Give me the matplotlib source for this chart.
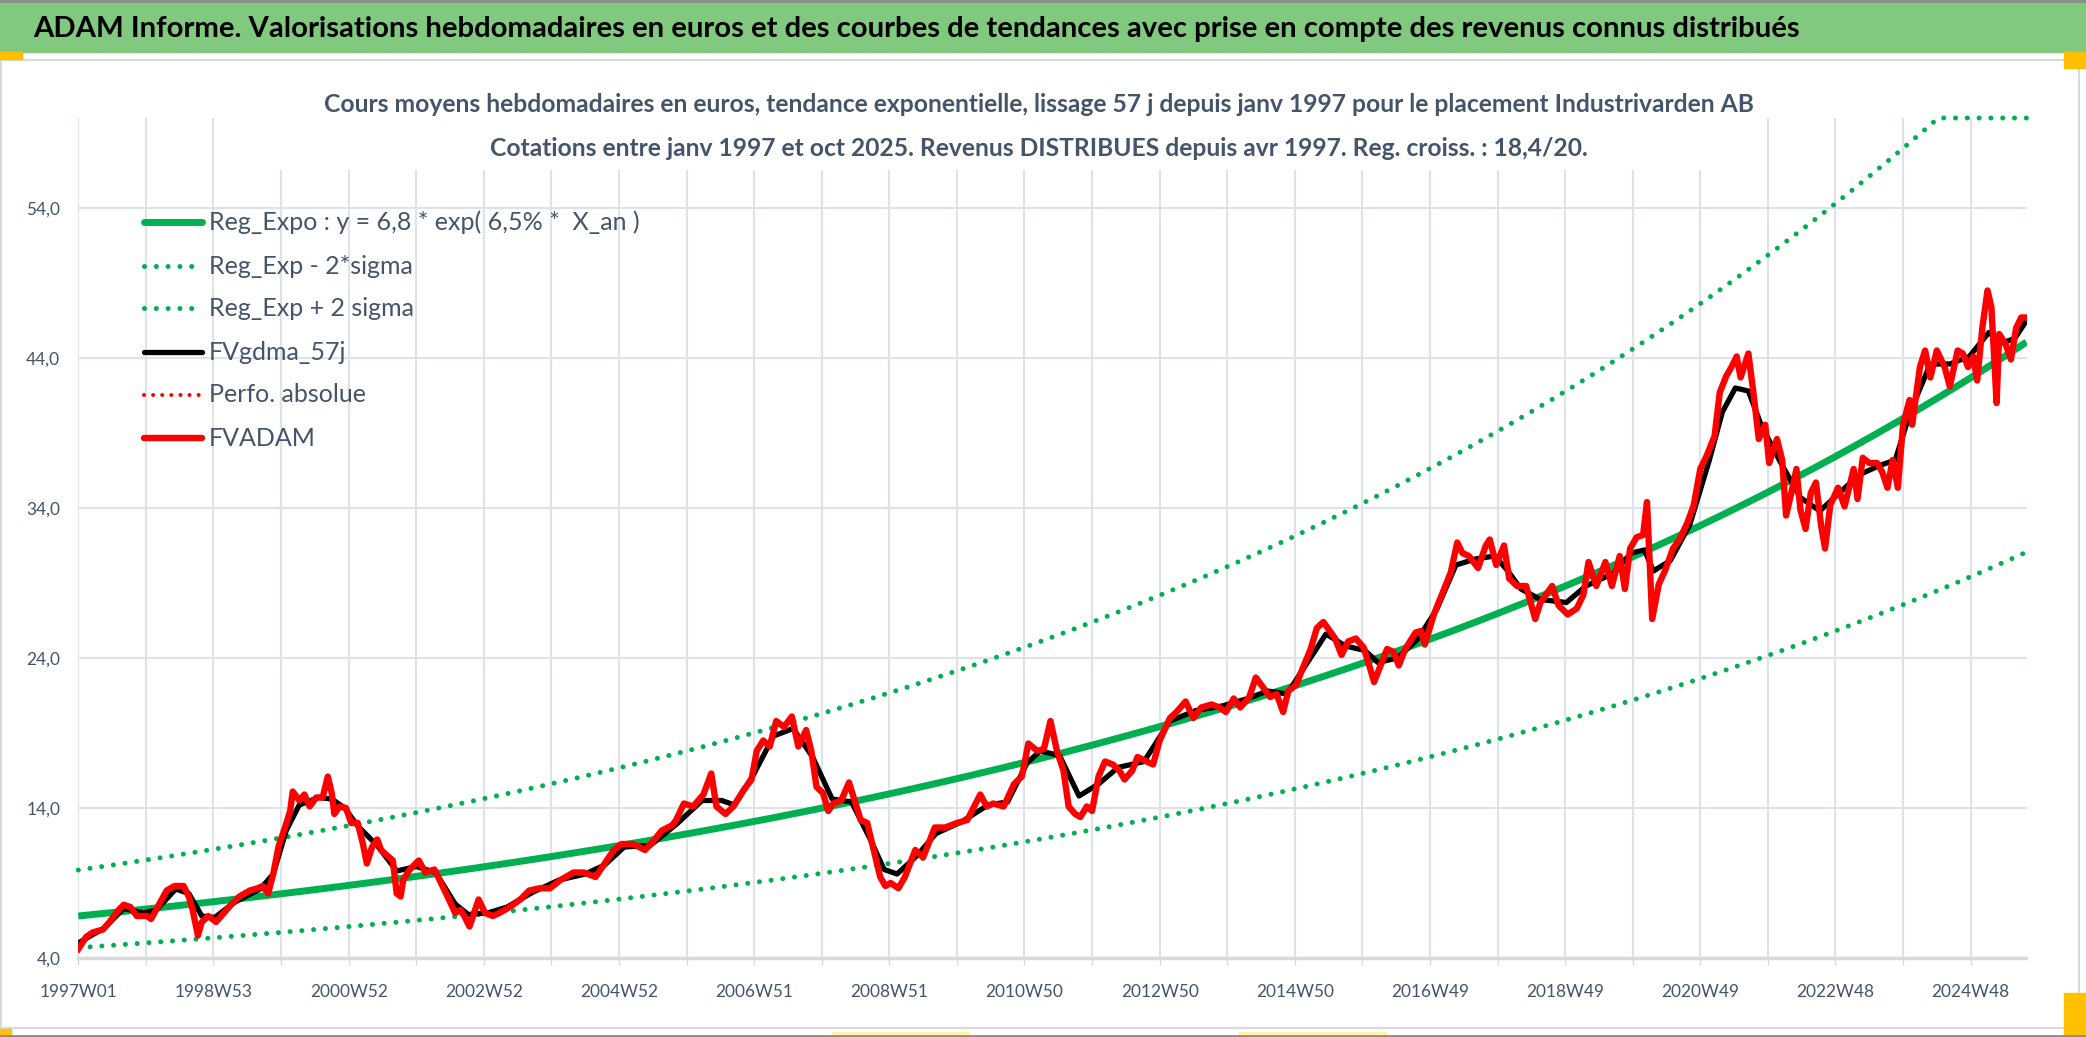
import numpy as np
import matplotlib
matplotlib.use("Agg")
import matplotlib.pyplot as plt
from matplotlib import font_manager
from matplotlib.lines import Line2D
from matplotlib.patches import Rectangle
from matplotlib.ticker import FixedLocator, FuncFormatter

W, H, DPI = 2086, 1037, 100

# ---- data ----
n_weeks = 1500
tick_every = 52
tick_labels = ['1997W01', '1998W53', '2000W52', '2002W52', '2004W52', '2006W51',
               '2008W51', '2010W50', '2012W50', '2014W50', '2016W49', '2018W49',
               '2020W49', '2022W48', '2024W48']
y_ticks = [4, 14, 24, 34, 44, 54]
y_min, y_max = 4, 60

# Reg_Expo : y = 6,8 * exp(6,5% * X_an), bands = +/- 2 sigma (log scale)
reg_a = 6.8
reg_rate = 0.0656
two_sigma = 0.372

# FVADAM (weekly index, value)
red_week = [0, 6, 11, 19, 24, 31, 35, 40, 45, 53, 56, 63, 68, 74, 81, 85, 88, 92, 95, 100,
            106, 112, 117, 124, 132, 138, 142, 146, 150, 154, 159, 163, 165, 170, 174, 178,
            183, 188, 192, 195, 197, 201, 206, 210, 215, 219, 222, 226, 230, 233, 238, 242,
            245, 248, 250, 255, 262, 267, 274, 278, 283, 290, 294, 297, 301, 308, 313, 319,
            324, 332, 340, 347, 355, 363, 371, 381, 389, 398, 405, 412, 418, 427, 436, 442,
            449, 457, 460, 466, 473, 481, 487, 491, 498, 504, 512, 518, 522, 527, 532, 537,
            543, 549, 554, 560, 564, 568, 573, 577, 581, 587, 593, 598, 602, 607, 612, 617,
            621, 625, 631, 636, 644, 650, 659, 667, 676, 684, 694, 699, 704, 712, 720, 726,
            731, 738, 743, 748, 753, 758, 762, 767, 771, 776, 780, 785, 790, 796, 801, 805,
            811, 815, 822, 827, 832, 840, 845, 852, 858, 864, 872, 878, 883, 889, 894, 901,
            906, 912, 917, 922, 927, 931, 937, 942, 948, 953, 958, 963, 967, 972, 977, 983,
            989, 994, 997, 1002, 1007, 1012, 1016, 1021, 1029, 1033, 1036, 1043, 1049, 1056,
            1061, 1065, 1070, 1077, 1083, 1086, 1091, 1097, 1101, 1107, 1114, 1117, 1121,
            1125, 1134, 1139, 1146, 1153, 1158, 1162, 1168, 1175, 1180, 1186, 1190, 1194,
            1199, 1204, 1207, 1211, 1216, 1221, 1227, 1232, 1238, 1243, 1248, 1253, 1259,
            1263, 1268, 1272, 1276, 1279, 1285, 1289, 1293, 1298, 1301, 1307, 1311, 1314,
            1318, 1322, 1325, 1329, 1333, 1337, 1341, 1344, 1348, 1354, 1359, 1366, 1369,
            1373, 1378, 1384, 1388, 1392, 1396, 1400, 1404, 1409, 1411, 1417, 1421, 1425,
            1430, 1436, 1440, 1446, 1450, 1454, 1458, 1461, 1465, 1469, 1472, 1476, 1478,
            1483, 1487, 1491, 1495, 1499]
red_value = [4.6, 5.4, 5.7, 5.9, 6.4, 7.2, 7.55, 7.4, 6.8, 6.8, 6.6, 7.7, 8.5, 8.8, 8.8, 8.1,
             7.2, 5.5, 6.4, 6.8, 6.4, 7.0, 7.5, 8.1, 8.5, 8.65, 8.8, 8.3, 9.6, 11.4, 12.7,
             13.8, 15.1, 14.5, 14.9, 14.1, 14.7, 14.7, 16.1, 15.0, 13.6, 14.1, 14.0, 13.0,
             13.0, 11.6, 10.3, 11.4, 11.9, 11.2, 10.8, 10.5, 8.3, 8.1, 9.2, 9.9, 10.5, 9.7,
             9.9, 9.2, 8.3, 7.0, 7.2, 6.8, 6.1, 7.9, 7.0, 6.8, 7.0, 7.4, 7.9, 8.5, 8.65,
             8.65, 9.2, 9.7, 9.7, 9.4, 10.3, 11.2, 11.6, 11.6, 11.2, 11.75, 12.5, 12.85,
             13.2, 14.3, 14.1, 14.9, 16.3, 14.1, 13.6, 14.1, 15.2, 15.9, 17.8, 18.5, 18.1,
             19.8, 19.4, 20.1, 18.1, 19.2, 17.8, 15.4, 15.0, 13.8, 14.3, 14.5, 15.7, 14.3,
             13.2, 13.0, 11.2, 9.4, 8.8, 9.0, 8.65, 9.4, 11.2, 10.7, 12.7, 12.7, 13.0,
             13.2, 14.9, 14.1, 14.3, 14.1, 15.6, 16.1, 18.3, 17.8, 17.95, 19.8, 17.8, 16.5,
             14.1, 13.6, 13.4, 14.1, 13.8, 16.1, 17.1, 16.9, 16.5, 15.9, 16.5, 17.4, 17.1,
             16.9, 18.5, 20.0, 20.4, 21.1, 20.0, 20.7, 20.9, 20.7, 20.4, 21.3, 20.7, 21.4,
             22.7, 22.0, 21.4, 21.6, 20.4, 21.8, 22.2, 23.3, 24.55, 26.0, 26.4, 25.8, 25.3,
             24.2, 25.1, 25.3, 24.7, 23.3, 22.4, 23.5, 24.6, 24.4, 23.5, 24.6, 25.7, 25.8,
             24.9, 26.9, 28.2, 29.7, 31.7, 31.0, 30.8, 30.0, 31.5, 31.9, 30.2, 31.5, 29.3,
             28.8, 28.8, 27.85, 26.6, 27.7, 28.8, 27.5, 26.9, 27.3, 28.2, 30.4, 28.8, 30.4,
             28.8, 30.8, 28.6, 31.3, 32.05, 32.2, 34.4, 26.6, 28.9, 29.85, 31.3, 31.9, 33.0,
             34.2, 36.6, 37.5, 38.8, 41.7, 42.8, 43.4, 44.1, 42.7, 44.3, 41.6, 38.6, 39.55,
             37.0, 38.6, 37.2, 33.5, 35.0, 36.6, 33.9, 32.6, 35.0, 35.7, 32.8, 31.3, 34.2,
             35.35, 34.1, 36.6, 34.6, 37.35, 37.0, 37.0, 36.4, 35.35, 37.2, 35.35, 39.55,
             41.2, 39.55, 43.4, 44.5, 42.7, 44.5, 43.4, 42.1, 44.5, 44.3, 43.4, 44.1, 42.5,
             46.0, 48.5, 47.4, 41.0, 45.6, 44.9, 43.9, 46.0, 46.7, 46.7]

# FVgdma_57j (weekly index, value)
black_week = [0, 20, 35, 50, 60, 75, 85, 95, 105, 120, 140, 150, 160, 170, 185, 195, 205,
              215, 230, 245, 260, 275, 290, 300, 315, 330, 350, 370, 390, 405, 420, 440,
              460, 480, 495, 505, 520, 535, 550, 565, 580, 595, 610, 620, 630, 645, 660,
              680, 700, 715, 730, 740, 755, 770, 785, 800, 820, 840, 860, 880, 900, 915,
              930, 945, 960, 975, 990, 1000, 1015, 1030, 1045, 1060, 1075, 1090, 1100,
              1110, 1125, 1145, 1160, 1180, 1195, 1205, 1212, 1225, 1240, 1255, 1265, 1275,
              1285, 1295, 1310, 1325, 1340, 1355, 1370, 1385, 1398, 1410, 1425, 1440, 1455,
              1470, 1480, 1490, 1499]
black_value = [5.0, 6.0, 7.3, 7.0, 7.2, 8.6, 8.3, 6.8, 6.7, 7.7, 8.6, 9.6, 12.5, 14.2, 14.7,
               14.6, 14.0, 12.8, 11.5, 9.8, 10.1, 9.7, 7.6, 6.9, 7.0, 7.4, 8.4, 9.2, 9.6,
               10.2, 11.4, 11.5, 12.9, 14.5, 14.5, 14.2, 16.3, 18.8, 19.3, 17.4, 14.6, 14.4,
               11.8, 9.9, 9.6, 10.8, 12.3, 13.1, 14.2, 14.4, 17.0, 17.8, 17.5, 14.8, 15.6,
               16.7, 17.1, 19.8, 20.5, 20.8, 21.3, 21.8, 21.6, 23.6, 25.6, 24.8, 24.5, 23.7,
               24.0, 25.2, 27.2, 30.2, 30.6, 30.8, 29.8, 28.6, 27.9, 27.7, 28.8, 29.6, 31.0,
               31.2, 29.8, 30.5, 32.9, 37.2, 40.4, 42.0, 41.8, 39.5, 37.0, 34.7, 33.8, 35.0,
               36.2, 36.8, 37.2, 40.5, 43.6, 43.6, 44.1, 45.7, 45.0, 45.3, 46.5]

title = ("ADAM Informe. Valorisations hebdomadaires en euros et des courbes de tendances "
         "avec prise en compte des revenus connus distribués")
subtitle_1 = ("Cours moyens hebdomadaires en euros, tendance exponentielle, lissage 57 j "
              "depuis janv 1997 pour le placement Industrivarden AB")
subtitle_2 = ("Cotations entre janv 1997 et oct 2025. Revenus DISTRIBUES depuis avr 1997. "
              "Reg. croiss. : 18,4/20.")
legend_labels = ['Reg_Expo : y = 6,8 * exp( 6,5% *  X_an )', 'Reg_Exp - 2*sigma',
                 'Reg_Exp + 2 sigma', 'FVgdma_57j', 'Perfo. absolue', 'FVADAM']


def pick_font(names):
    for name in names:
        try:
            font_manager.findfont(font_manager.FontProperties(family=name),
                                  fallback_to_default=False)
            return name
        except ValueError:
            pass
    return 'DejaVu Sans'


FONT = pick_font(['Liberation Sans Narrow', 'Lato', 'Open Sans'])
TXT = '#44546A'
GREEN = '#00B050'
GRID = '#DEE3EA'

fig = plt.figure(figsize=(W / DPI, H / DPI), dpi=DPI)
renderer = fig.canvas.get_renderer()


def fx(px):
    return px / W


def fy(py):
    return 1 - py / H


def fit_size(s, width, weight='normal'):
    t = fig.text(0, 0, s, fontsize=20, family=FONT, weight=weight)
    w = t.get_window_extent(renderer).width
    t.remove()
    return 20 * width / w


# frame / title bar
fig.add_artist(Rectangle((0, fy(52)), 1, 1 - fy(52), transform=fig.transFigure,
                         color='#80C97E', zorder=0))
fig.add_artist(Rectangle((fx(1), fy(1028)), fx(2078), fy(60) - fy(1028), transform=fig.transFigure,
                         facecolor='white', edgecolor='#D9D9D9', lw=1.5, zorder=0))
for yy in (0.5, 1036):
    fig.add_artist(Line2D([0, 1], [fy(yy), fy(yy)], color='#8C8C8C', lw=2))
for (x0, y0, w0, h0, c) in [(0, 52, 22, 7, '#FFC000'), (2064, 52, 22, 16, '#FFC000'),
                            (2064, 993, 22, 44, '#FFC000'), (0, 1029, 11, 6, '#FFC000'),
                            (832, 1032, 137, 4, '#FFF3A6'), (1239, 1032, 147, 4, '#FFF3A6')]:
    fig.add_artist(Rectangle((fx(x0), fy(y0 + h0)), fx(w0), h0 / H,
                             transform=fig.transFigure, color=c, zorder=0.5))

fig.text(fx(33), fy(29), title, ha='left', va='center', family=FONT, weight='bold',
         color='black', fontsize=fit_size(title, 1772, 'bold'))

# plot area
ax = fig.add_axes([fx(78.3), fy(958), (2026.5 - 78.3) / W, (958 - 118) / H])
ax.set_xlim(0, n_weeks - 1)
ax.set_ylim(y_min, y_max)
for s in ('top', 'right', 'left'):
    ax.spines[s].set_visible(False)
ax.spines['bottom'].set_color('#D9D9D9')
ax.spines['bottom'].set_linewidth(2.5)

weeks = np.arange(n_weeks)
reg = reg_a * np.exp(reg_rate * weeks / 52.0)
low = reg * np.exp(-two_sigma)
high = np.minimum(reg * np.exp(two_sigma), y_max)

dot_green = dict(color=GREEN, lw=3.6, linestyle=(0, (0.01, 2.35)), dash_capstyle='round')
ax.plot(weeks, reg, color=GREEN, lw=5.0, solid_capstyle='butt', zorder=3)
ax.plot(weeks, low, zorder=3, **dot_green)
ax.plot(weeks, high, zorder=3, clip_on=False, **dot_green)
ax.plot(black_week, black_value, color='black', lw=3.8, zorder=4)
ax.plot(red_week, red_value, color='#FF0000', lw=4.6, zorder=5, solid_joinstyle='round')

tick_pos = np.arange(0, n_weeks, tick_every)
ax.xaxis.set_major_locator(FixedLocator(tick_pos))
labels = [''] * len(tick_pos)
for i, lab in enumerate(tick_labels):
    labels[2 * i] = lab
tick_fs = fit_size('1997W01', 78)
ax.set_xticklabels(labels, family=FONT, fontsize=tick_fs, color=TXT)
ax.tick_params(axis='x', length=5, width=1, color='#D9D9D9', pad=14)
ax.set_yticks(y_ticks)
ax.yaxis.set_major_formatter(FuncFormatter(lambda v, p: f'{v:.1f}'.replace('.', ',')))
ax.tick_params(axis='y', length=0, pad=13, labelsize=tick_fs, labelcolor=TXT)
for lab in ax.get_yticklabels():
    lab.set_family(FONT)
ax.grid(True, color=GRID, lw=1.5, zorder=0)
ax.set_axisbelow(True)

# white box behind the subtitle (hides gridlines like the original)
fig.add_artist(Rectangle((fx(250), fy(169)), fx(1490), (169 - 117) / H,
                         transform=fig.transFigure, color='white', zorder=1))
sub_fs = fit_size(subtitle_2, 1098, 'bold')
fig.text(fx(1039), fy(105), subtitle_1, ha='center', va='center', family=FONT,
         weight='bold', color=TXT, fontsize=sub_fs, zorder=2)
fig.text(fx(1039), fy(148), subtitle_2, ha='center', va='center', family=FONT,
         weight='bold', color=TXT, fontsize=sub_fs, zorder=2)

# legend
styles = [dict(color=GREEN, lw=5.0, solid_capstyle='round'),
          dot_green, dot_green,
          dict(color='black', lw=3.8, solid_capstyle='round'),
          dict(color='#FF0000', lw=2.9, linestyle=(0, (0.01, 2.25)), dash_capstyle='round'),
          dict(color='#FF0000', lw=4.6, solid_capstyle='round')]
leg_y = [222, 266, 308, 352, 395, 438]
leg_fs = fit_size(legend_labels[0], 431)
for yy, lab, st in zip(leg_y, legend_labels, styles):
    fig.add_artist(Line2D([fx(144), fx(202)], [fy(yy), fy(yy)], zorder=6, **st))
    fig.text(fx(209), fy(yy), lab, ha='left', va='center', family=FONT, fontsize=leg_fs,
             color=TXT, zorder=6)

fig.savefig('out.png', dpi=DPI)
